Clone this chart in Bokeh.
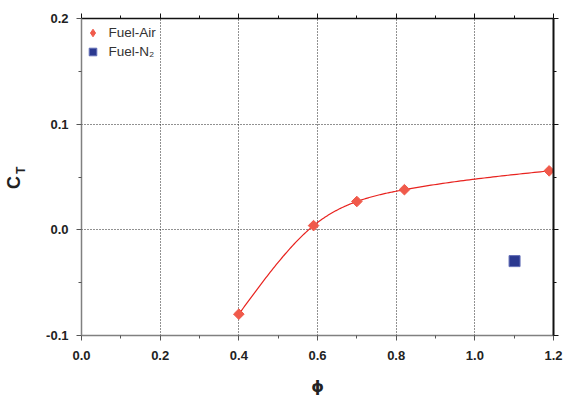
import numpy as np
from bokeh.plotting import figure
from bokeh.models import (Range1d, LinearAxis, FixedTicker, Legend, Label,
                          PrintfTickFormatter, CustomLabelingPolicy)
from bokeh.embed import file_html
from bokeh.resources import INLINE

# ---- data ----
phi_air = [0.40, 0.59, 0.70, 0.821, 1.189]
ct_air = [-0.0798, 0.0040, 0.0268, 0.0380, 0.0558]
phi_n2 = [1.101]
ct_n2 = [-0.0296]
x_ticks = [0.0, 0.2, 0.4, 0.6, 0.8, 1.0, 1.2]
x_minor = [0.1, 0.3, 0.5, 0.7, 0.9, 1.1]
y_ticks = [-0.1, 0.0, 0.1, 0.2]
y_minor = [-0.05, 0.05, 0.15]

FONT = "Liberation Sans"


def natural_spline(x, y, n=200):
    x = np.asarray(x, float)
    y = np.asarray(y, float)
    m = len(x)
    h = np.diff(x)
    A = np.zeros((m, m))
    b = np.zeros(m)
    A[0, 0] = 1
    A[-1, -1] = 1
    for i in range(1, m - 1):
        A[i, i - 1] = h[i - 1]
        A[i, i] = 2 * (h[i - 1] + h[i])
        A[i, i + 1] = h[i]
        b[i] = 3 * ((y[i + 1] - y[i]) / h[i] - (y[i] - y[i - 1]) / h[i - 1])
    c = np.linalg.solve(A, b)
    xs, ys = [], []
    for i in range(m - 1):
        bb = (y[i + 1] - y[i]) / h[i] - h[i] * (2 * c[i] + c[i + 1]) / 3
        d = (c[i + 1] - c[i]) / (3 * h[i])
        t = np.linspace(0, h[i], n // (m - 1), endpoint=(i == m - 2))
        xs.extend(x[i] + t)
        ys.extend(y[i] + bb * t + c[i] * t ** 2 + d * t ** 3)
    return xs, ys


p = figure(width=563, height=399, output_backend="svg", toolbar_location=None,
           x_range=Range1d(0, 1.2), y_range=Range1d(-0.1, 0.2),
           min_border_left=81, min_border_right=10, min_border_top=18,
           min_border_bottom=64)
p.outline_line_color = None
p.background_fill_color = "white"

xt = FixedTicker(ticks=x_ticks, minor_ticks=x_minor)
yt = FixedTicker(ticks=y_ticks, minor_ticks=y_minor)
fmt = PrintfTickFormatter(format="%.1f")

for ax, t in ((p.xaxis[0], xt), (p.yaxis[0], yt)):
    ax.ticker = t
    ax.formatter = fmt
    ax.axis_line_color = "#808080"
    ax.axis_line_width = 1.5
    ax.major_tick_line_color = "#555555"
    ax.minor_tick_line_color = "#555555"
    ax.major_tick_out = 5
    ax.major_tick_in = 0
    ax.minor_tick_out = 3
    ax.minor_tick_in = 0
    ax.major_label_text_font = FONT
    ax.major_label_text_font_style = "bold"
    ax.major_label_text_font_size = "13px"
    ax.major_label_text_color = "#222222"

p.yaxis[0].major_label_standoff = 8
p.xaxis[0].major_label_standoff = 10
p.xaxis[0].axis_label = "ϕ"
p.xaxis[0].axis_label_text_font = "DejaVu Sans"
p.xaxis[0].axis_label_text_font_style = "bold"
p.xaxis[0].axis_label_text_font_size = "16px"
p.xaxis[0].axis_label_text_color = "#222222"
p.xaxis[0].axis_label_standoff = 14

no_labels = CustomLabelingPolicy(
    code="const ids = [...indices]; for (const i of ids) indices.unset(i); return indices")

for loc, t in (("above", xt), ("right", yt)):
    ax = LinearAxis(ticker=t, major_label_policy=no_labels)
    ax.axis_line_color = "#111111"
    ax.axis_line_width = 1.6 if loc == "above" else 2
    ax.major_tick_line_color = "#111111"
    ax.minor_tick_line_color = "#111111"
    ax.major_tick_out = 5
    ax.major_tick_in = 0
    ax.minor_tick_out = 3
    ax.minor_tick_in = 0
    ax.major_label_text_font_size = "0px"
    ax.major_label_standoff = 0
    p.add_layout(ax, loc)

p.xgrid.grid_line_color = "#222222"
p.ygrid.grid_line_color = "#222222"
p.xgrid.grid_line_dash = "1 2"
p.ygrid.grid_line_dash = "1 2"
p.xgrid.grid_line_width = 1
p.ygrid.grid_line_width = 1

# fitted curve through Fuel-Air points
cx, cy = natural_spline(phi_air, ct_air)
p.line(cx, cy, line_color="#e8231f", line_width=1.2)

p.scatter(phi_air, ct_air, marker="square", angle=np.pi / 4, size=7.5,
          fill_color="#f05a4b", line_color="#f05a4b")
p.scatter(phi_n2, ct_n2, marker="square", size=11,
          fill_color="#2b3990", line_color="#6470b8", line_width=1)
# legend-only glyphs (no data shown)
leg_air = p.scatter([np.nan], [np.nan], marker="diamond", size=12,
                    fill_color="#f05a4b", line_color="#f05a4b")
leg_n2 = p.scatter([np.nan], [np.nan], marker="square", size=10,
                   fill_color="#2b3990", line_color="#6470b8", line_width=1)

legend = Legend(items=[("Fuel-Air", [leg_air]), ("Fuel-N₂", [leg_n2])],
                location=(1.5, 274), margin=0, padding=3, spacing=-1,
                label_height=19, glyph_height=19, glyph_width=19,
                label_standoff=7, border_line_color=None,
                background_fill_alpha=0,
                label_text_font=FONT, label_text_font_size="13.5px",
                label_text_color="#333333")
p.add_layout(legend)

# y-axis title C_T as two rotated labels living in a side panel (not clipped)
p.add_layout(Label(x=-0.1716, y=0.0448, text="C",
                   angle=np.pi / 2, text_font=FONT, text_font_style="bold",
                   text_font_size="18px", text_align="center",
                   text_baseline="middle", text_color="#222222"), "left")
p.add_layout(Label(x=-0.1526, y=0.0562, text="T",
                   angle=np.pi / 2, text_font=FONT, text_font_style="bold",
                   text_font_size="12px", text_align="center",
                   text_baseline="middle", text_color="#222222"), "left")

open("out.html", "w").write(file_html(p, INLINE))
